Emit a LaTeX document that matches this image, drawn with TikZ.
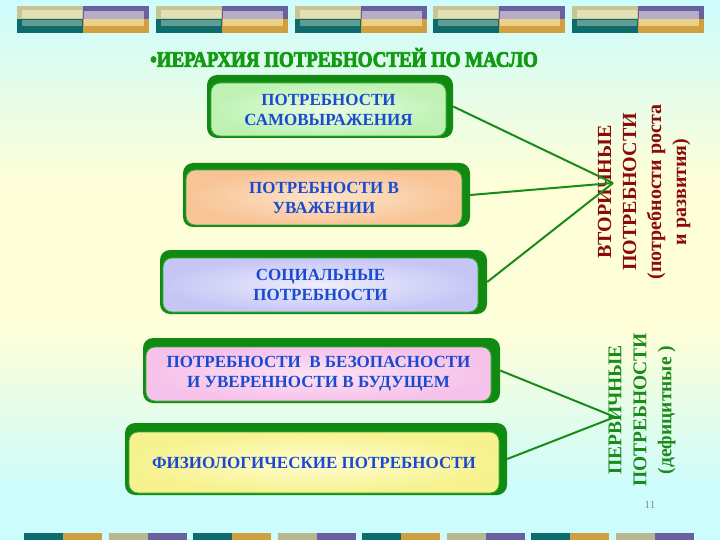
\documentclass[tikz,border=0pt]{standalone}
\usepackage{fontspec}
\setmainfont{Liberation Serif}
\newfontfamily\titlefont{Liberation Serif}[FakeStretch=0.86, BoldFeatures={FakeBold=3.5}]
\definecolor{bgC}{HTML}{CCFCFC}
\definecolor{bgY}{HTML}{FEFED8}
\definecolor{dkhaki}{HTML}{C8C493}
\definecolor{lkhaki}{HTML}{E2E0B4}
\definecolor{dteal}{HTML}{0D6B6B}
\definecolor{lteal}{HTML}{5E9C94}
\definecolor{dpurp}{HTML}{6860A0}
\definecolor{lpurp}{HTML}{B4AEC8}
\definecolor{dgold}{HTML}{D0A040}
\definecolor{lgold}{HTML}{ECD088}
\definecolor{bkhaki}{HTML}{B8B890}
\definecolor{boxgreen}{HTML}{108A10}
\definecolor{edgegreen}{HTML}{3AAA3A}
\definecolor{txtblue}{HTML}{1A4AD0}
\definecolor{titlegreen}{HTML}{139A13}
\definecolor{secred}{HTML}{8B0A0A}
\definecolor{primgreen}{HTML}{1A8A1A}
\definecolor{linegreen}{HTML}{1A8A1A}
\definecolor{gAo}{HTML}{BEF2B4}\definecolor{gAi}{HTML}{EAFCE2}
\definecolor{gBo}{HTML}{F8C496}\definecolor{gBi}{HTML}{FDE4CA}
\definecolor{gCo}{HTML}{C6C6F6}\definecolor{gCi}{HTML}{EEEEFC}
\definecolor{gDo}{HTML}{F6C2EA}\definecolor{gDi}{HTML}{FDE2F4}
\definecolor{gEo}{HTML}{F6F28E}\definecolor{gEi}{HTML}{FFFDD2}
\tikzset{
  bgbox/.style={fill=boxgreen, draw=none, rounded corners=10pt, inner sep=0pt},
  fillbox/.style={draw=edgegreen, line width=0.8pt, rounded corners=9pt, inner sep=0pt},
  btext/.style={text=txtblue, font=\bfseries\fontsize{17}{20}\selectfont, align=center, inner sep=0pt},
  sectext/.style={text=secred, font=\bfseries\fontsize{20}{25}\selectfont, align=center, rotate=90, inner sep=0pt},
  primtext/.style={text=primgreen, font=\bfseries\fontsize{19.5}{25}\selectfont, align=center, rotate=90, inner sep=0pt},
  conn/.style={draw=linegreen, line width=2pt},
}
\begin{document}
\begin{tikzpicture}[x=1pt,y=-1pt]
\useasboundingbox (0,0) rectangle (720,540);
% background
\shade[top color=bgC, bottom color=bgY] (0,0) rectangle (720,181);
\fill[bgY] (0,180) rectangle (720,331);
\shade[top color=bgY, bottom color=bgC] (0,330) rectangle (720,491);
\fill[bgC] (0,490) rectangle (720,540);
% top decorative strip
\foreach \x in {17,155.8,294.6,433.4,572.2} {
  \fill[dkhaki] (\x,6) rectangle (\x+66,19.5);
  \fill[lkhaki] (\x+5,10.5) rectangle (\x+65,18.5);
  \fill[dteal] (\x,19.5) rectangle (\x+66,33);
  \fill[lteal] (\x+5,20) rectangle (\x+65,26.5);
  \fill[dpurp] (\x+66,6) rectangle (\x+132,19.5);
  \fill[lpurp] (\x+67,11.5) rectangle (\x+127,19.5);
  \fill[dgold] (\x+66,19.5) rectangle (\x+132,33);
  \fill[lgold] (\x+67,19.5) rectangle (\x+127,26.5);
}
% bottom decorative strip
\foreach \x in {24,193,362,531} {
  \fill[dteal] (\x,533) rectangle (\x+39,541);
  \fill[dgold] (\x+39,533) rectangle (\x+78,541);
}
\foreach \x in {108.5,277.5,446.5,615.5} {
  \fill[bkhaki] (\x,533) rectangle (\x+39,541);
  \fill[dpurp] (\x+39,533) rectangle (\x+78,541);
}
% title
\node[text=titlegreen, font=\titlefont\bfseries\fontsize{22}{22}\selectfont, inner sep=0pt] (title) at (344,57.5) {•ИЕРАРХИЯ ПОТРЕБНОСТЕЙ ПО МАСЛО};
% boxes
\node[bgbox, minimum width=246pt, minimum height=63pt] (b1bg) at (330,106.5) {};
\node[fillbox, inner color=gAi, outer color=gAo, minimum width=235pt, minimum height=53pt] (b1) at (328.5,109.5) {};
\node[btext] (t1) at (b1) {ПОТРЕБНОСТИ\\САМОВЫРАЖЕНИЯ};

\node[bgbox, minimum width=287pt, minimum height=64pt] (b2bg) at (326.5,195) {};
\node[fillbox, inner color=gBi, outer color=gBo, minimum width=276pt, minimum height=55pt] (b2) at (324,197.5) {};
\node[btext] (t2) at (b2) {ПОТРЕБНОСТИ В\\УВАЖЕНИИ};

\node[bgbox, minimum width=327pt, minimum height=64pt] (b3bg) at (323.5,282) {};
\node[fillbox, inner color=gCi, outer color=gCo, minimum width=315pt, minimum height=54pt] (b3) at (320.5,285) {};
\node[btext] (t3) at (b3) {СОЦИАЛЬНЫЕ\\ПОТРЕБНОСТИ};

\node[bgbox, minimum width=357pt, minimum height=65pt] (b4bg) at (321.5,370.5) {};
\node[fillbox, inner color=gDi, outer color=gDo, minimum width=345pt, minimum height=54pt] (b4) at (318.5,374) {};
\node[btext] (t4) at (b4) {ПОТРЕБНОСТИ \ В БЕЗОПАСНОСТИ\\И УВЕРЕННОСТИ В БУДУЩЕМ};

\node[bgbox, minimum width=382pt, minimum height=72pt] (b5bg) at (316,459) {};
\node[fillbox, inner color=gEi, outer color=gEo, minimum width=370pt, minimum height=61pt] (b5) at (314,462.5) {};
\node[btext] (t5) at (b5) {ФИЗИОЛОГИЧЕСКИЕ ПОТРЕБНОСТИ};

% side labels
\node[sectext] (sec) at (644,192) {ВТОРИЧНЫЕ\\ПОТРЕБНОСТИ\\(потребности роста\\и развития)};
\node[primtext] (prim) at (642,410) {ПЕРВИЧНЫЕ\\ПОТРЕБНОСТИ\\(дефицитные )};
\coordinate (secapex) at (613,183);
\coordinate (primapex) at (615,417);
% connectors
\draw[conn] (b1bg.east) -- (secapex);
\draw[conn] (b2bg.east) -- (secapex);
\draw[conn] (b3bg.east) -- (secapex);
\draw[conn] (b4bg.east) -- (primapex);
\draw[conn] (b5bg.east) -- (primapex);
% page number
\node[text=black!45, font=\fontsize{11}{11}\selectfont, inner sep=0pt] (pg) at (650,505) {11};
\end{tikzpicture}
\end{document}
